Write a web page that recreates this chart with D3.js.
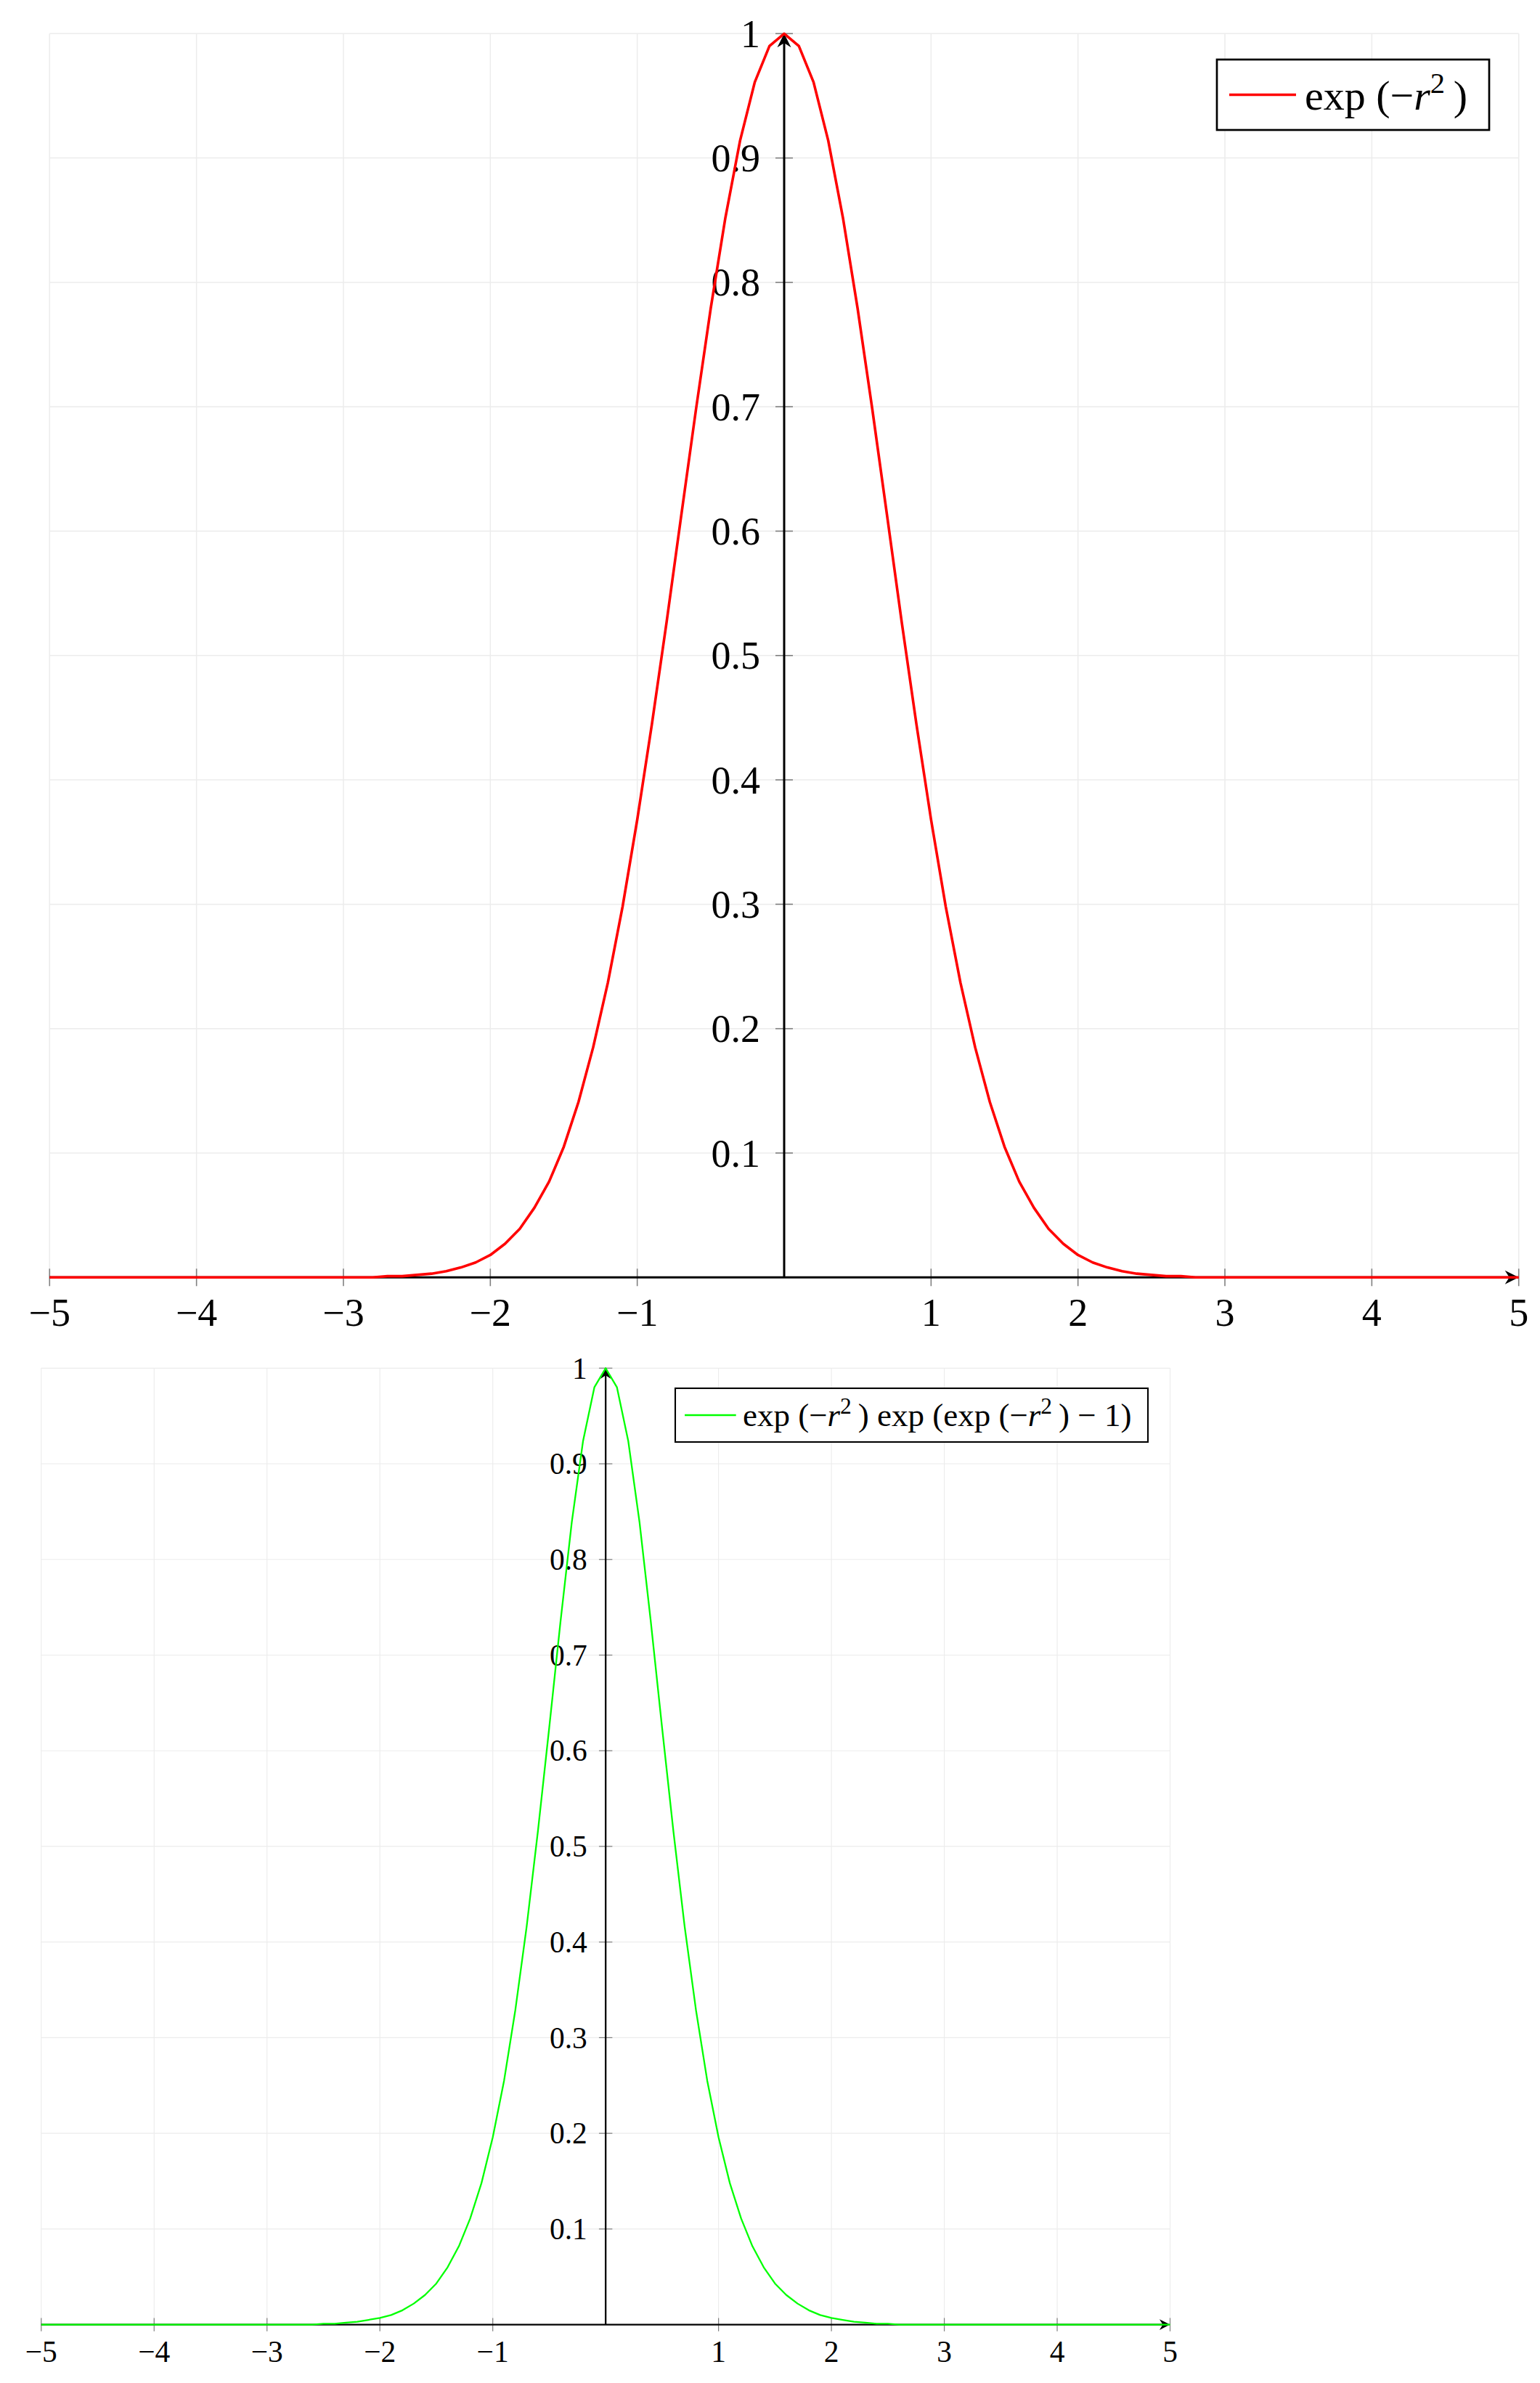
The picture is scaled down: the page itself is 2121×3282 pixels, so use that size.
<!DOCTYPE html>
<html>
<head>
<meta charset="utf-8">
<script src="https://cdn.jsdelivr.net/npm/d3@7"></script>
<style>
  html, body { margin: 0; padding: 0; background: #fff; }
  text { font-family: "Liberation Serif", "DejaVu Serif", serif; fill: #000; }
</style>
</head>
<body>
<div id="chart"></div>
<script>
// sample points
const sampleX = [-5,
  -3, -2.9, -2.8, -2.7, -2.6, -2.5, -2.4, -2.3, -2.2, -2.1,
  -2, -1.9, -1.8, -1.7, -1.6, -1.5, -1.4, -1.3, -1.2, -1.1,
  -1, -0.9, -0.8, -0.7, -0.6, -0.5, -0.4, -0.3, -0.2, -0.1,
  0,
  0.1, 0.2, 0.3, 0.4, 0.5, 0.6, 0.7, 0.8, 0.9, 1,
  1.1, 1.2, 1.3, 1.4, 1.5, 1.6, 1.7, 1.8, 1.9, 2,
  2.1, 2.2, 2.3, 2.4, 2.5, 2.6, 2.7, 2.8, 2.9, 3,
  5];

const gaussY = [0,
  0.000, 0.000, 0.000, 0.001, 0.001, 0.002, 0.003, 0.005, 0.008, 0.012,
  0.018, 0.027, 0.039, 0.056, 0.077, 0.105, 0.141, 0.185, 0.237, 0.298,
  0.368, 0.445, 0.527, 0.613, 0.698, 0.779, 0.852, 0.914, 0.961, 0.990,
  1.000,
  0.990, 0.961, 0.914, 0.852, 0.779, 0.698, 0.613, 0.527, 0.445, 0.368,
  0.298, 0.237, 0.185, 0.141, 0.105, 0.077, 0.056, 0.039, 0.027, 0.018,
  0.012, 0.008, 0.005, 0.003, 0.002, 0.001, 0.001, 0.000, 0.000, 0.000,
  0];

const nestedY = [0,
  0.000, 0.000, 0.000, 0.000, 0.000, 0.001, 0.001, 0.002, 0.003, 0.005,
  0.007, 0.010, 0.015, 0.022, 0.031, 0.043, 0.060, 0.082, 0.111, 0.148,
  0.196, 0.255, 0.329, 0.416, 0.516, 0.624, 0.735, 0.839, 0.924, 0.980,
  1.000,
  0.980, 0.924, 0.839, 0.735, 0.624, 0.516, 0.416, 0.329, 0.255, 0.196,
  0.148, 0.111, 0.082, 0.060, 0.043, 0.031, 0.022, 0.015, 0.010, 0.007,
  0.005, 0.003, 0.002, 0.001, 0.001, 0.000, 0.000, 0.000, 0.000, 0.000,
  0];

const xTicks = [-5, -4, -3, -2, -1, 1, 2, 3, 4, 5];
const xTickLabels = ["\u22125", "\u22124", "\u22123", "\u22122", "\u22121", "1", "2", "3", "4", "5"];
const yTicks = [0.1, 0.2, 0.3, 0.4, 0.5, 0.6, 0.7, 0.8, 0.9, 1];
const yTickLabels = ["0.1", "0.2", "0.3", "0.4", "0.5", "0.6", "0.7", "0.8", "0.9", "1"];
const xGrid = [-5, -4, -3, -2, -1, 0, 1, 2, 3, 4, 5];
const yGrid = [0, 0.1, 0.2, 0.3, 0.4, 0.5, 0.6, 0.7, 0.8, 0.9, 1];

// legend entries as text pieces (i = italic, sup = superscript)
const legendTop = [{t: "exp (\u2212"}, {t: "r", i: true}, {t: "2", sup: true}, {t: "\u2009)"}];
const legendBottom = [
  {t: "exp (\u2212"}, {t: "r", i: true}, {t: "2", sup: true}, {t: "\u2009) exp (exp (\u2212"},
  {t: "r", i: true}, {t: "2", sup: true}, {t: "\u2009) \u2212 1)"}
];

var svg = d3.select("#chart").append("svg")
  .attr("width", 2121)
  .attr("height", 3282);

function drawPanel(p) {
  var x = d3.scaleLinear().domain([-5, 5]).range([p.left, p.right]);
  var y = d3.scaleLinear().domain([0, 1]).range([p.bottom, p.top]);
  var s = p.scale;
  var g = svg.append("g");
  var x0 = x(0), y0 = y(0);

  // grid
  g.selectAll(".vgrid").data(xGrid).enter().append("line")
    .attr("x1", d => x(d)).attr("x2", d => x(d))
    .attr("y1", y(0)).attr("y2", y(1))
    .attr("stroke", "#ececec").attr("stroke-width", 1.5 * s);
  g.selectAll(".hgrid").data(yGrid).enter().append("line")
    .attr("x1", x(-5)).attr("x2", x(5))
    .attr("y1", d => y(d)).attr("y2", d => y(d))
    .attr("stroke", "#ececec").attr("stroke-width", 1.5 * s);

  // tick marks
  g.selectAll(".xt").data(xTicks).enter().append("line")
    .attr("x1", d => x(d)).attr("x2", d => x(d))
    .attr("y1", y0 - 12 * s).attr("y2", y0 + 12 * s)
    .attr("stroke", "#808080").attr("stroke-width", 1.6 * s);
  g.selectAll(".yt").data(yTicks).enter().append("line")
    .attr("x1", x0 - 12 * s).attr("x2", x0 + 12 * s)
    .attr("y1", d => y(d)).attr("y2", d => y(d))
    .attr("stroke", "#808080").attr("stroke-width", 1.6 * s);

  // tick labels
  g.selectAll(".xl").data(xTicks).enter().append("text")
    .attr("x", d => x(d))
    .attr("y", y0 + 67 * s)
    .attr("text-anchor", "middle")
    .style("font-size", (54 * s) + "px")
    .text((d, i) => xTickLabels[i]);
  g.selectAll(".yl").data(yTicks).enter().append("text")
    .attr("x", x0 - 33 * s)
    .attr("y", d => y(d) + 18.5 * s)
    .attr("text-anchor", "end")
    .style("font-size", (54 * s) + "px")
    .text((d, i) => yTickLabels[i]);

  // axes with arrow heads
  g.append("line")
    .attr("x1", x(-5)).attr("x2", x(5) - 4 * s)
    .attr("y1", y0).attr("y2", y0)
    .attr("stroke", "#000").attr("stroke-width", 3 * s);
  g.append("line")
    .attr("x1", x0).attr("x2", x0)
    .attr("y1", y(0)).attr("y2", y(1) + 4 * s)
    .attr("stroke", "#000").attr("stroke-width", 3 * s);
  var head = "M0,0 L" + (-19 * s) + "," + (-9.5 * s) + " L" + (-13 * s) + ",0 L" + (-19 * s) + "," + (9.5 * s) + " Z";
  g.append("path").attr("d", head)
    .attr("transform", "translate(" + x(5) + "," + y0 + ")")
    .attr("fill", "#000");
  g.append("path").attr("d", head)
    .attr("transform", "translate(" + x0 + "," + y(1) + ") rotate(-90)")
    .attr("fill", "#000");

  // the curve
  var line = d3.line()
    .x((d, i) => x(sampleX[i]))
    .y(d => y(d));
  g.append("path")
    .datum(p.values)
    .attr("d", line)
    .attr("fill", "none")
    .attr("stroke", p.color)
    .attr("stroke-width", p.lineWidth)
    .attr("stroke-linejoin", "round");

  // legend
  var lg = p.legend;
  g.append("rect")
    .attr("x", lg.x).attr("y", lg.y)
    .attr("width", lg.w).attr("height", lg.h)
    .attr("fill", "#fff")
    .attr("stroke", "#000").attr("stroke-width", 2.7 * s);
  g.append("line")
    .attr("x1", lg.x + 17 * s).attr("x2", lg.x + 109 * s)
    .attr("y1", lg.y + lg.h / 2).attr("y2", lg.y + lg.h / 2)
    .attr("stroke", p.color).attr("stroke-width", p.lineWidth);
  var fs = lg.font;
  var t = g.append("text")
    .attr("x", lg.x + 121 * s)
    .attr("y", lg.y + lg.h / 2 + 20 * s)
    .style("font-size", fs + "px");
  var shifted = false;
  p.label.forEach(piece => {
    var ts = t.append("tspan").text(piece.t);
    if (piece.i) ts.style("font-style", "italic");
    if (piece.sup) {
      ts.style("font-size", (fs * 0.7) + "px").attr("dy", -fs * 0.38);
      shifted = true;
    } else if (shifted) {
      ts.attr("dy", fs * 0.38);
      shifted = false;
    }
  });
}

drawPanel({
  left: 68.3, right: 2091.7, top: 46.3, bottom: 1759.3, scale: 1,
  values: gaussY, color: "#ff0000", lineWidth: 3.6,
  legend: {x: 1676, y: 82, w: 375, h: 97, font: 58},
  label: legendTop
});

drawPanel({
  left: 56.8, right: 1611.5, top: 1884.3, bottom: 3201.6, scale: 0.768,
  values: nestedY, color: "#00ff00", lineWidth: 2.3,
  legend: {x: 930, y: 1912, w: 651, h: 74, font: 45},
  label: legendBottom
});
</script>
</body>
</html>
